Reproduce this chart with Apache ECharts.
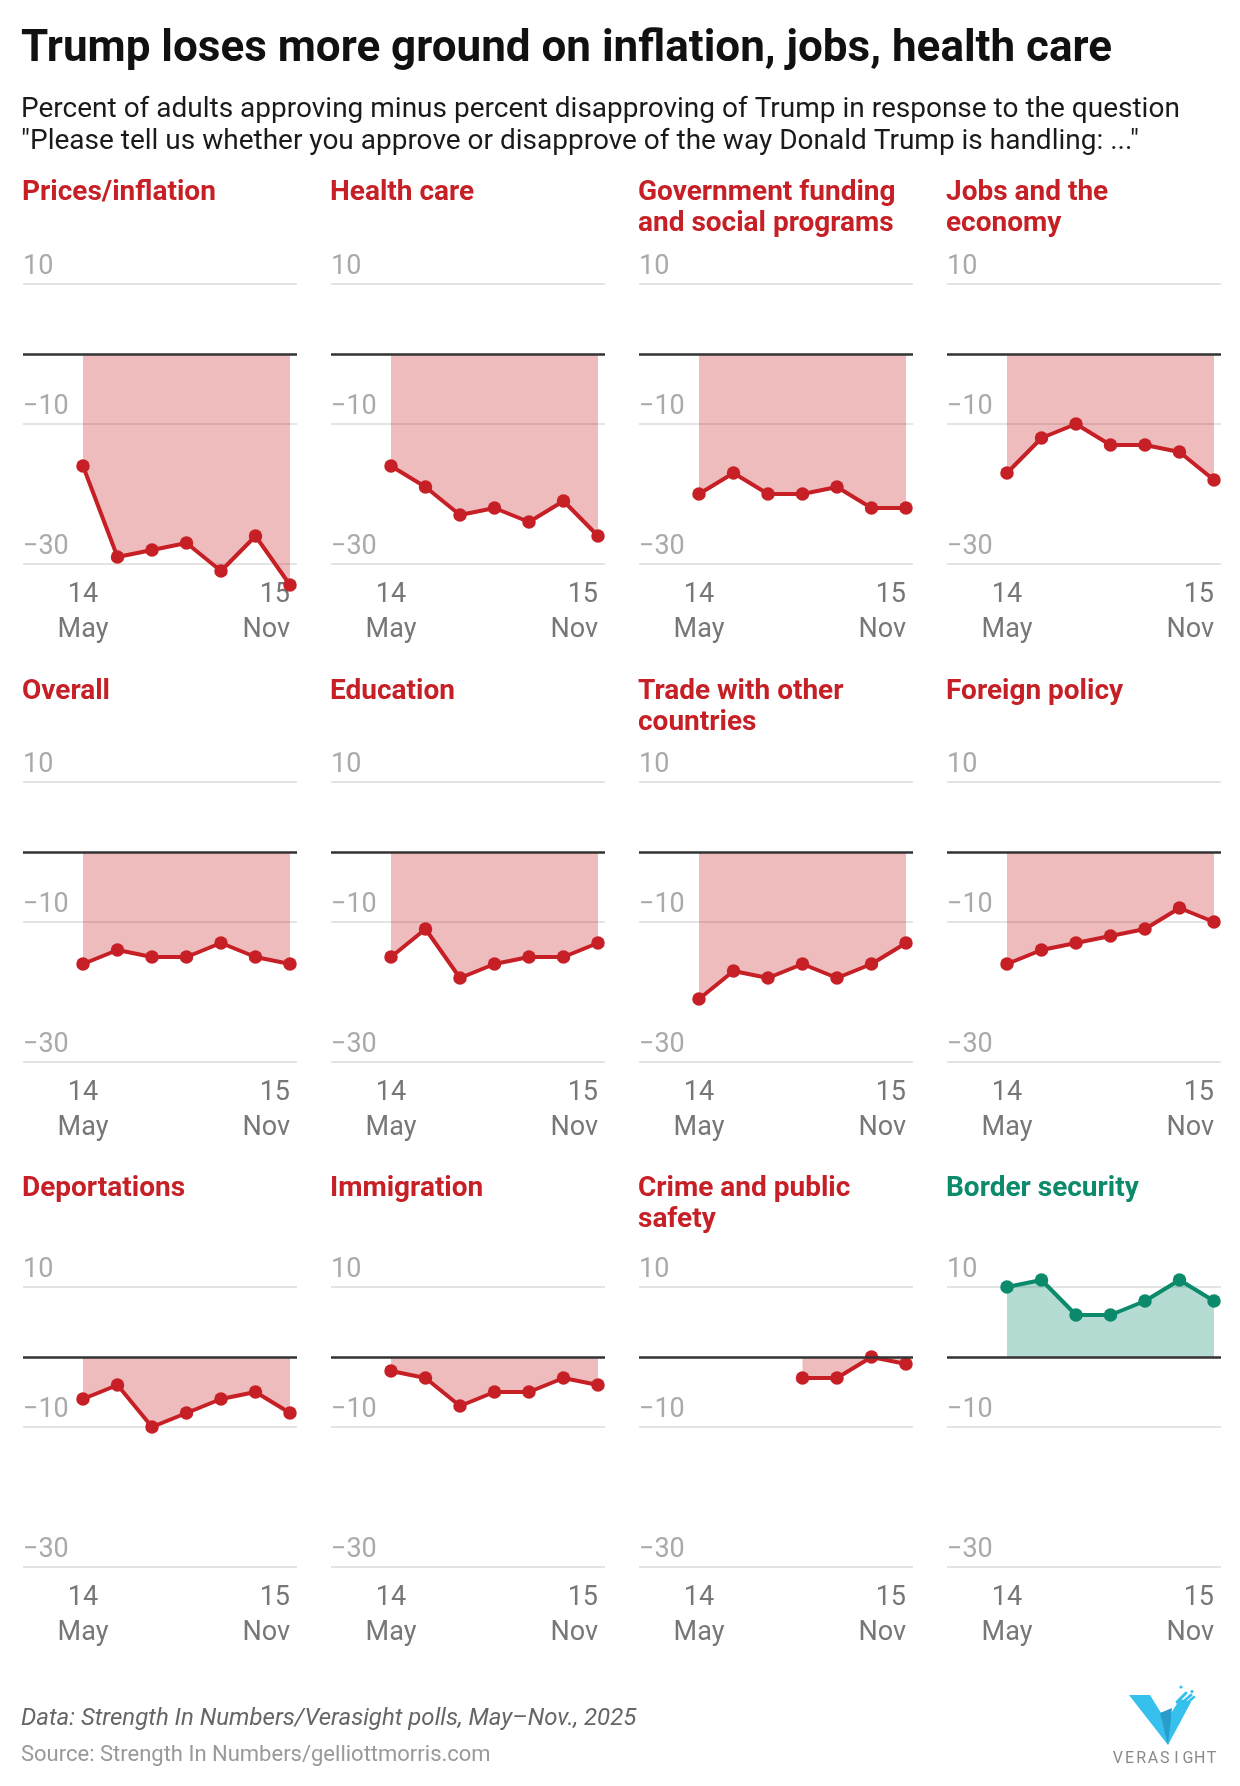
<!DOCTYPE html>
<html>
<head>
<meta charset="utf-8">
<script src="https://cdn.jsdelivr.net/npm/echarts@6/dist/echarts.min.js"></script>
<style>
html,body{margin:0;padding:0;background:#fff;}
#c{width:1240px;height:1786px;}
</style>
</head>
<body>
<div id="c"></div>
<script>
// ---------------- DATA ----------------
const panelTitles = [
  'Prices/inflation', 'Health care', 'Government funding\nand social programs', 'Jobs and the\neconomy',
  'Overall', 'Education', 'Trade with other\ncountries', 'Foreign policy',
  'Deportations', 'Immigration', 'Crime and public\nsafety', 'Border security'
];
const pollIndex = [0, 1, 2, 3, 4, 5, 6];           // seven polls, May 14 → Nov 15
const pricesInflation = [-16, -29, -28, -27, -31, -26, -33];
const healthCare      = [-16, -19, -23, -22, -24, -21, -26];
const govFunding      = [-20, -17, -20, -20, -19, -22, -22];
const jobsEconomy     = [-17, -12, -10, -13, -13, -14, -18];
const overall         = [-16, -14, -15, -15, -13, -15, -16];
const education       = [-15, -11, -18, -16, -15, -15, -13];
const trade           = [-21, -17, -18, -16, -18, -16, -13];
const foreignPolicy   = [-16, -14, -13, -12, -11, -8, -10];
const deportations    = [-6, -4, -10, -8, -6, -5, -8];
const immigration     = [-2, -3, -7, -5, -5, -3, -4];
const crimeSafety     = [null, null, null, -3, -3, 0, -1];
const borderSecurity  = [10, 11, 6, 6, 8, 11, 8];
const seriesValues = [pricesInflation, healthCare, govFunding, jobsEconomy,
  overall, education, trade, foreignPolicy, deportations, immigration, crimeSafety, borderSecurity];
const xTickPolls  = [0, 6];
const xTickLabels = ['14\nMay', '15\nNov'];
const yTicks = [-30, -10, 10];

// ---------------- LAYOUT ----------------
const RED = '#c62026', GREEN = '#0b8a6c';
const FONT = 'Roboto';
const colLeft = [23, 331, 639, 947];
const panelW = 274;
const rowTop = [284, 782, 1287];
const plotH = 280;
const titleTop = [172, 671, 1168];
const firstOff = 60, lastOff = 267;
const step = (lastOff - firstOff) / (pollIndex.length - 1);
const xMin = -firstOff / step;
const xMax = (pollIndex.length - 1) + (panelW - lastOff) / step;

const grids = [], xAxes = [], yAxes = [], series = [];
const titles = [
  { text: 'Trump loses more ground on inflation, jobs, health care', left: 16, top: 20,
    textStyle: { fontFamily: FONT, fontSize: 44, fontWeight: 'bold', color: '#111', lineHeight: 50 } },
  { text: 'Percent of adults approving minus percent disapproving of Trump in response to the question\n"Please tell us whether you approve or disapprove of the way Donald Trump is handling: ..."',
    left: 16, top: 89,
    textStyle: { fontFamily: FONT, fontSize: 28, fontWeight: 'normal', color: '#1a1a1a', lineHeight: 32 } },
  { text: 'Data: Strength In Numbers/Verasight polls, May–Nov., 2025', left: 16, top: 1702,
    textStyle: { fontFamily: FONT, fontSize: 24, fontStyle: 'italic', fontWeight: 'normal', color: '#666', lineHeight: 24 } },
  { text: 'Source: Strength In Numbers/gelliottmorris.com', left: 16, top: 1739,
    textStyle: { fontFamily: FONT, fontSize: 22, fontWeight: 'normal', color: '#999', lineHeight: 22 } }
];

seriesValues.forEach(function (vals, k) {
  const r = Math.floor(k / 4), c = k % 4;
  const valid = vals.filter(v => v !== null);
  const mean = valid.reduce((a, b) => a + b, 0) / valid.length;
  const col = mean > 0 ? GREEN : RED;
  grids.push({ left: colLeft[c], top: rowTop[r], width: panelW, height: plotH, outerBoundsMode: 'none', containLabel: false });
  xAxes.push({
    gridIndex: k, type: 'value', min: xMin, max: xMax,
    axisLine: { show: false }, axisTick: { show: false }, splitLine: { show: false },
    axisLabel: {
      customValues: xTickPolls, margin: 14, color: '#777', fontFamily: FONT, fontSize: 27, lineHeight: 35,
      alignMaxLabel: 'right',
      formatter: function (v) { const i = xTickPolls.indexOf(Math.round(v)); return i >= 0 ? xTickLabels[i] : ''; }
    }
  });
  yAxes.push({
    gridIndex: k, type: 'value', min: yTicks[0], max: yTicks[yTicks.length - 1], interval: yTicks[1] - yTicks[0],
    axisLine: { show: false }, axisTick: { show: false },
    splitLine: { lineStyle: { color: '#e4e4e4', width: 2 } },
    axisLabel: {
      inside: true, margin: 0, align: 'left', verticalAlign: 'bottom', padding: [0, 0, 3, 0],
      color: '#aaa', fontFamily: FONT, fontSize: 27, lineHeight: 27,
      formatter: function (v) { return v < 0 ? '\u2212' + Math.abs(v) : String(v); }
    }
  });
  titles.push({
    text: panelTitles[k], left: colLeft[c] - 6, top: titleTop[r],
    textStyle: { fontFamily: FONT, fontSize: 28, fontWeight: 'bold', color: col, lineHeight: 31 }
  });
  series.push({
    type: 'line', xAxisIndex: k, yAxisIndex: k, clip: false,
    data: pollIndex.map((i) => [i, vals[i]]).filter(d => d[1] !== null),
    symbol: 'circle', symbolSize: 13.5,
    lineStyle: { color: col, width: 4 },
    itemStyle: { color: col },
    areaStyle: { color: col, opacity: 0.3 },
    markLine: {
      silent: true, symbol: ['none', 'none'], label: { show: false },
      lineStyle: { color: '#333', width: 2.5, type: 'solid' },
      data: [{ yAxis: 0 }]
    },
    z: 3
  });
});

// Verasight logo (drawn shapes + letter-spaced wordmark)
const logoWord = 'VERASIGHT';
const logoGraphics = [
  { type: 'polygon', shape: { points: [[1129, 1695], [1150, 1695], [1166, 1721], [1180, 1699], [1191, 1702], [1168, 1745]] }, style: { fill: '#35c0ee' } },
  { type: 'polygon', shape: { points: [[1160, 1713], [1172, 1708], [1168, 1745]] }, style: { fill: '#2a9ccb' } },
  { type: 'line', shape: { x1: 1177, y1: 1702, x2: 1186, y2: 1693 }, style: { stroke: '#35c0ee', lineWidth: 3, lineCap: 'round' } },
  { type: 'line', shape: { x1: 1182, y1: 1703, x2: 1191, y2: 1695 }, style: { stroke: '#35c0ee', lineWidth: 3, lineCap: 'round' } },
  { type: 'line', shape: { x1: 1186, y1: 1704, x2: 1194, y2: 1697 }, style: { stroke: '#35c0ee', lineWidth: 2.5, lineCap: 'round' } },
  { type: 'circle', shape: { cx: 1181, cy: 1687, r: 1.6 }, style: { fill: '#35c0ee' } },
  { type: 'circle', shape: { cx: 1192, cy: 1691.5, r: 1.6 }, style: { fill: '#35c0ee' } }
];
logoWord.split('').forEach(function (ch, i) {
  logoGraphics.push({ type: 'text', x: 1112 + 11.7 * (i + 0.5), y: 1751,
    style: { text: ch, fill: '#8a8a8a', font: '16px Roboto', textAlign: 'center', textVerticalAlign: 'top' } });
});

const chart = echarts.init(document.getElementById('c'), null, { renderer: 'canvas' });
chart.setOption({
  animation: false,
  backgroundColor: '#fff',
  title: titles,
  grid: grids,
  xAxis: xAxes,
  yAxis: yAxes,
  series: series,
  graphic: logoGraphics
});
</script>
</body>
</html>
